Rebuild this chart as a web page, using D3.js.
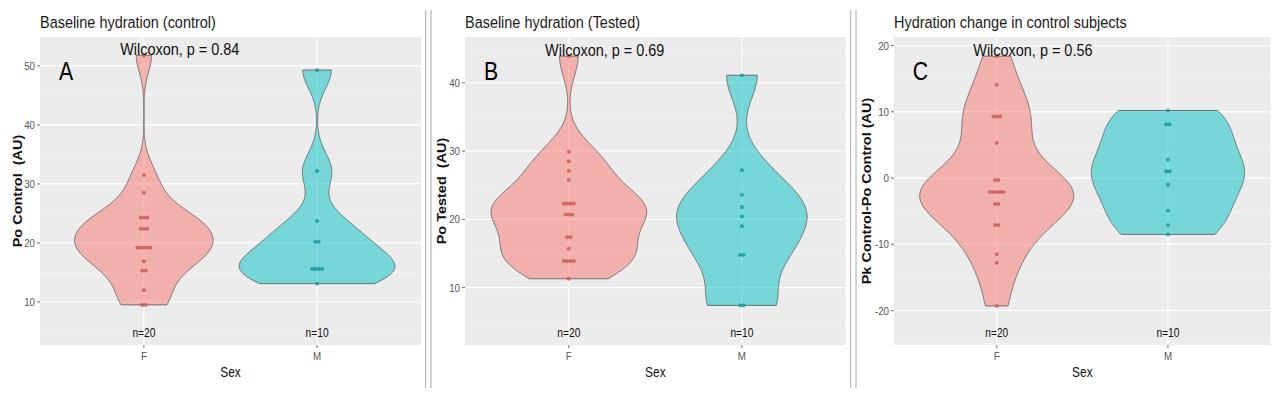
<!DOCTYPE html>
<html><head><meta charset="utf-8">
<script src="https://cdn.jsdelivr.net/npm/d3@7"></script>
<style>
body{margin:0;background:#fff}
svg{display:block}
text{font-family:"Liberation Sans",Arial,sans-serif}
</style>
</head><body>
<svg id="chart" width="1281" height="393"></svg>
<script>
// ---------------- data ----------------
const categories = ["F", "M"];
const panelTitles = ["Baseline hydration (control)", "Baseline hydration (Tested)", "Hydration change in control subjects"];
const panelLetters = ["A", "B", "C"];
const yAxisTitles = ["Po Control  (AU)", "Po Tested  (AU)", "Pk Control-Po Control (AU)"];
const testLabels = ["Wilcoxon, p = 0.84", "Wilcoxon, p = 0.69", "Wilcoxon, p = 0.56"];
const xAxisTitle = "Sex";

const controlF = [51.8, 31.5, 28.5, 24.3, 24.3, 24.3, 22.4, 22.4, 22.4, 19.2, 19.2, 19.2, 19.2, 19.2, 16.9, 15.3, 15.3, 12.0, 9.5, 9.5];
const controlM = [49.3, 32.2, 23.7, 20.2, 20.2, 15.6, 15.6, 15.6, 15.6, 13.1];
const testedF = [43.9, 29.9, 28.5, 27.1, 25.8, 22.3, 22.3, 22.3, 22.3, 20.7, 20.7, 20.7, 17.4, 17.4, 15.7, 13.9, 13.9, 13.9, 13.9, 11.3];
const testedM = [41.1, 27.2, 23.6, 21.8, 20.4, 19.0, 14.8, 14.8, 7.4, 7.4];
const changeF = [18.4, 14.1, 9.3, 9.3, 9.3, 5.3, -0.3, -0.3, -2.1, -2.1, -2.1, -2.1, -2.1, -3.9, -3.9, -7.1, -7.1, -11.5, -12.8, -19.3];
const changeM = [10.2, 8.1, 8.1, 2.8, 1.0, 1.0, -1.0, -4.9, -7.1, -8.5];

const ticksA = [10, 20, 30, 40, 50];
const ticksB = [10, 20, 30, 40];
const ticksC = [-20, -10, 0, 10, 20];
const domainA = [2.7, 54.9];
const domainB = [1.6, 46.7];
const domainC = [-25.2, 21.3];

// ---------------- layout / style ----------------
const SX = 0.85; // horizontal squeeze of the original picture's text
const plotTop = 37, plotBottom = 345;
const panels = [
  {F: controlF, M: controlM, ticks: ticksA, domain: domainA, left: 40, right: 421, yTitleX: 18},
  {F: testedF, M: testedM, ticks: ticksB, domain: domainB, left: 465, right: 845.7, yTitleX: 442},
  {F: changeF, M: changeM, ticks: ticksC, domain: domainC, left: 894, right: 1270.7, yTitleX: 867}
];
const fills = {F: "#F8766D", M: "#00BFC4"};
const dotFill = {F: "#DC625C", M: "#12A7AB"};
const dotStroke = {F: "#B04944", M: "#0B8387"};

const svg = d3.select("#chart");

function squeezedText(g, x, y, txt, opts = {}) {
  const t = g.append("text")
    .attr("transform", `translate(${x},${y}) scale(${SX},1)` + (opts.rotate ? ` rotate(${opts.rotate})` : ""))
    .attr("text-anchor", opts.anchor || "start")
    .attr("font-size", opts.size || 12)
    .attr("fill", opts.fill || "#000")
    .attr("font-weight", opts.weight || "normal")
    .style("white-space", "pre")
    .text(txt);
  if (opts.dy) t.attr("dy", opts.dy);
  return t;
}

function bwNrd0(v) {
  const s = d3.deviation(v);
  const sorted = v.slice().sort(d3.ascending);
  const iqr = d3.quantileSorted(sorted, 0.75) - d3.quantileSorted(sorted, 0.25);
  let lo = Math.min(s, iqr / 1.34);
  if (!(lo > 0)) lo = s || 1;
  return 0.9 * lo * Math.pow(v.length, -0.2);
}
function density(v) {
  const bw = bwNrd0(v);
  const [mn, mx] = d3.extent(v);
  const n = 512;
  return d3.range(n).map(i => {
    const y = mn + (mx - mn) * i / (n - 1);
    let s = 0;
    for (const xi of v) { const z = (y - xi) / bw; s += Math.exp(-0.5 * z * z); }
    return {y, d: s / (v.length * bw * Math.sqrt(2 * Math.PI))};
  });
}

// separators
[[425.7, 431], [850.7, 856]].forEach(pair => pair.forEach(x => {
  svg.append("line").attr("x1", x).attr("x2", x).attr("y1", 10).attr("y2", 388)
    .attr("stroke", "#a8a8a8").attr("stroke-width", 1);
}));

panels.forEach((p, i) => {
  const g = svg.append("g");
  const x = d3.scalePoint().domain(categories).range([p.left, p.right]).padding(0.6);
  const y = d3.scaleLinear().domain(p.domain).range([plotBottom, plotTop]);
  const step = x.step();

  g.append("rect").attr("x", p.left).attr("y", plotTop).attr("width", p.right - p.left).attr("height", plotBottom - plotTop).attr("fill", "#EBEBEB");
  const minor = [];
  const tStep = p.ticks[1] - p.ticks[0];
  for (let k = -1; k <= p.ticks.length; k++) {
    const v = p.ticks[0] + (k + 0.5) * tStep;
    if (v > p.domain[0] && v < p.domain[1]) minor.push(v);
  }
  g.selectAll(".minor").data(minor).join("line")
    .attr("x1", p.left).attr("x2", p.right).attr("y1", d => y(d)).attr("y2", d => y(d))
    .attr("stroke", "#F7F7F7").attr("stroke-width", 0.6);
  g.selectAll(".major").data(p.ticks).join("line")
    .attr("x1", p.left).attr("x2", p.right).attr("y1", d => y(d)).attr("y2", d => y(d))
    .attr("stroke", "#fff").attr("stroke-width", 1.1);
  g.selectAll(".vmajor").data(categories).join("line")
    .attr("x1", d => x(d)).attr("x2", d => x(d)).attr("y1", plotTop).attr("y2", plotBottom)
    .attr("stroke", "#fff").attr("stroke-width", 1.1);

  const dens = {F: density(p.F), M: density(p.M)};
  const maxD = d3.max([...dens.F, ...dens.M], d => d.d);
  const wScale = d3.scaleLinear().domain([0, maxD]).range([0, 0.45 * step]);
  categories.forEach(c => {
    const cx = x(c);
    const area = d3.area().y(d => y(d.y)).x0(d => cx - wScale(d.d)).x1(d => cx + wScale(d.d));
    g.append("path").attr("d", area(dens[c]))
      .attr("fill", fills[c]).attr("fill-opacity", 0.5)
      .attr("stroke", "#555").attr("stroke-width", 0.8);
  });

  const dotD = 3.3;
  categories.forEach(c => {
    d3.groups(p[c], v => v).forEach(([val, arr]) => {
      arr.forEach((_, j) => {
        g.append("circle")
          .attr("cx", x(c) + (j - (arr.length - 1) / 2) * dotD)
          .attr("cy", y(val)).attr("r", 1.6)
          .attr("fill", dotFill[c]).attr("fill-opacity", 0.85)
          .attr("stroke", dotStroke[c]).attr("stroke-width", 0.5);
      });
    });
  });

  categories.forEach(c => {
    squeezedText(g, x(c), plotBottom - 8, "n=" + p[c].length, {anchor: "middle", size: 12, fill: "#111"});
  });

  const ymax = d3.max([...p.F, ...p.M]);
  squeezedText(g, x("F") - 0.137 * step, y(ymax), testLabels[i], {size: 17, fill: "#111"});
  squeezedText(g, x("F") - 0.49 * step, 80, panelLetters[i], {size: 25, fill: "#000"});

  g.selectAll(".yt").data(p.ticks).join("line")
    .attr("x1", p.left - 3).attr("x2", p.left).attr("y1", d => y(d)).attr("y2", d => y(d))
    .attr("stroke", "#444").attr("stroke-width", 0.8);
  p.ticks.forEach(t => squeezedText(g, p.left - 5, y(t), String(t), {anchor: "end", size: 11.5, fill: "#555", dy: "0.35em"}));
  categories.forEach(c => {
    g.append("line").attr("x1", x(c)).attr("x2", x(c)).attr("y1", plotBottom).attr("y2", plotBottom + 3)
      .attr("stroke", "#444").attr("stroke-width", 0.8);
    squeezedText(g, x(c), 360, c, {anchor: "middle", size: 11.5, fill: "#555"});
  });
  squeezedText(g, p.left, 28, panelTitles[i], {size: 17, fill: "#1a1a1a"});
  squeezedText(g, (p.left + p.right) / 2, 377, xAxisTitle, {anchor: "middle", size: 14, fill: "#111"});
  squeezedText(g, p.yTitleX, (plotTop + plotBottom) / 2, yAxisTitles[i], {anchor: "middle", size: 14.5, fill: "#111", weight: "bold", rotate: -90, dy: "0.35em"});
});
</script>
</body></html>
